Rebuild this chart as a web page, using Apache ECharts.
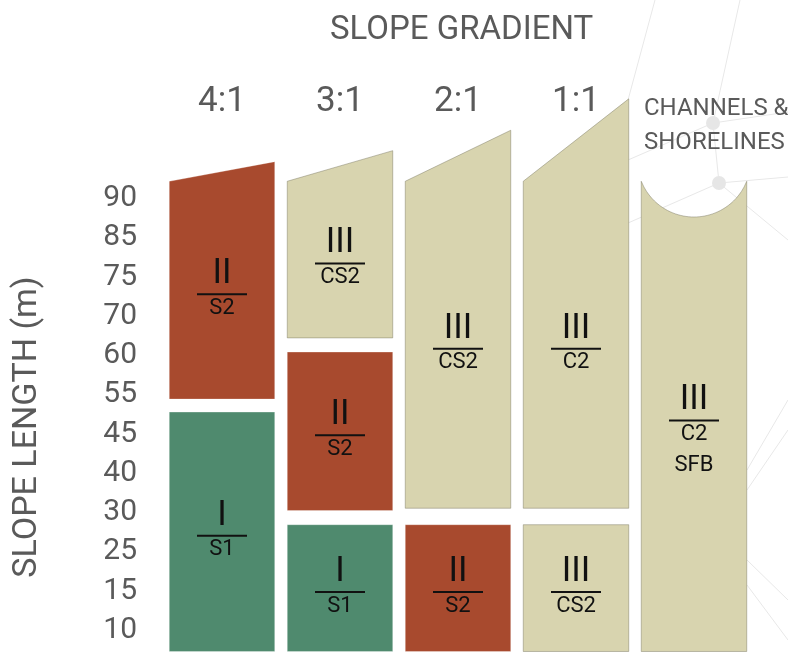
<!DOCTYPE html>
<html>
<head>
<meta charset="utf-8">
<script src="https://cdn.jsdelivr.net/npm/echarts@6/dist/echarts.min.js"></script>
<style>
html, body { margin: 0; padding: 0; background: #fff; }
#echart { width: 788px; height: 653px; }
</style>
</head>
<body>
<div id="echart"></div>
<script>
var gradients = ['4:1', '3:1', '2:1', '1:1', 'CHANNELS &\nSHORELINES'];
var lengthTicks = ['10', '15', '25', '30', '40', '45', '55', '60', '70', '75', '85', '90'];

// column tops, in slope-length rows: left corner, right corner (channels: bottom of the dip)
var topLeft = 11.84;
var topRight = [12.34, 12.62, 13.14, 13.94, 10.93];

// blocks (column index, from row, to row, class / code)
var blockColumn = [0, 0, 1, 1, 1, 2, 2, 3, 3, 4];
var blockFrom = [-0.14, 6.29, -0.14, 3.45, 7.85, -0.14, 3.51, -0.14, 3.51, -0.14];
var blockTo = [5.96, 11.84, 3.09, 7.49, 11.84, 3.09, 11.84, 3.09, 11.84, 11.84];
var blockClass = ['I', 'II', 'I', 'II', 'III', 'II', 'III', 'III', 'III', 'III'];
var blockCode = ['S1', 'S2', 'S1', 'S2', 'CS2', 'S2', 'CS2', 'CS2', 'C2', 'C2'];
var blockNote = ['', '', '', '', '', '', '', '', '', 'SFB'];

var classColors = { 'I': '#4F8A6E', 'II': '#A84A2E', 'III': '#D8D4AF' };

var myChart = echarts.init(document.getElementById('echart'));

var blocks = blockColumn.map(function (c, i) {
    return [c, blockFrom[i], blockTo[i]];
});

function renderBlock(params, api) {
    var i = params.dataIndex;
    var col = api.value(0);
    var from = api.value(1);
    var to = api.value(2);
    var w = api.size([1, 0])[0] * 0.894;
    var b = api.coord([col, from]);
    var t = api.coord([col, to]);
    var cx = b[0];
    var x0 = cx - w / 2, x1 = cx + w / 2;
    var pts = [[x0, b[1]], [x1, b[1]]];
    if (to >= topLeft && col === 4) {
        // concave top for channels
        var yd = api.coord([col, topRight[col]])[1];
        var h = yd - t[1];
        var half = w / 2;
        var r = (half * half + h * h) / (2 * h);
        var cy = yd - r;
        for (var k = 0; k <= 40; k++) {
            var x = x1 - (w * k) / 40;
            var dx = x - cx;
            pts.push([x, cy + Math.sqrt(Math.max(0, r * r - dx * dx))]);
        }
    } else if (to >= topLeft) {
        var tr = api.coord([col, topRight[col]]);
        pts.push([x1, tr[1]], [x0, t[1]]);
    } else {
        pts.push([x1, t[1]], [x0, t[1]]);
    }
    var cls = blockClass[i];
    var lineY = (b[1] + t[1]) / 2 + 4;
    var children = [
        {
            type: 'polygon',
            shape: { points: pts },
            style: {
                fill: classColors[cls],
                stroke: cls === 'III' ? 'rgba(120,118,95,0.45)' : 'rgba(255,255,255,0.3)',
                lineWidth: 1
            }
        },
        {
            type: 'line',
            shape: { x1: cx - 25, y1: lineY, x2: cx + 25, y2: lineY },
            style: { stroke: '#111', lineWidth: 2 }
        },
        {
            type: 'text',
            style: {
                text: cls, x: cx, y: lineY - 20, align: 'center', verticalAlign: 'middle',
                fontSize: 35, fontFamily: 'Roboto', fill: '#111'
            }
        },
        {
            type: 'text',
            style: {
                text: blockCode[i], x: cx, y: lineY + 14, align: 'center', verticalAlign: 'middle',
                fontSize: 22, fontFamily: 'Roboto', fill: '#111'
            }
        }
    ];
    if (blockNote[i]) {
        children.push({
            type: 'text',
            style: {
                text: blockNote[i], x: cx, y: lineY + 45, align: 'center', verticalAlign: 'middle',
                fontSize: 22, fontFamily: 'Roboto', fill: '#111'
            }
        });
    }
    return { type: 'group', children: children };
}

// faint network pattern in the background
var decoColor = '#e8e8e8';
var decoLines = [
    [713, 123, 719, 183], [713, 123, 788, 112], [713, 123, 740, 0], [713, 123, 628, 160],
    [719, 183, 788, 177], [719, 183, 628, 223], [719, 183, 788, 240], [628, 100, 655, 0],
    [747, 490, 788, 430], [747, 470, 788, 400], [747, 560, 788, 600], [747, 585, 788, 640]
];
var deco = decoLines.map(function (l) {
    return {
        type: 'line', z: 0, silent: true,
        shape: { x1: l[0], y1: l[1], x2: l[2], y2: l[3] },
        style: { stroke: decoColor, lineWidth: 1 }
    };
});
deco.push(
    { type: 'circle', z: 0, silent: true, shape: { cx: 713, cy: 123, r: 7 }, style: { fill: '#e6e6e6' } },
    { type: 'circle', z: 0, silent: true, shape: { cx: 719, cy: 183, r: 7 }, style: { fill: '#e6e6e6' } }
);
deco.push({
    type: 'text', silent: true, x: 27, y: 427, rotation: Math.PI / 2,
    style: {
        text: 'SLOPE LENGTH (m)', align: 'center', verticalAlign: 'middle',
        fontSize: 34, fontFamily: 'Roboto', fill: '#5a5a5a'
    }
});

option = {
    backgroundColor: '#fff',
    title: [
        {
            text: 'SLOPE GRADIENT',
            left: 330,
            top: 14,
            padding: 0,
            textStyle: { fontSize: 33, fontWeight: 'normal', fontFamily: 'Roboto', color: '#5a5a5a' }
        },
        {
            text: gradients[4],
            left: 644,
            top: 92,
            padding: 0,
            textStyle: { fontSize: 24, lineHeight: 34, fontWeight: 'normal', fontFamily: 'Roboto', color: '#5a5a5a' }
        }
    ],
    graphic: deco,
    grid: [
        { left: 163, right: 35, top: 175, bottom: 7 },
        // tick labels sit a few pixels lower than the block rows
        { left: 163, right: 35, top: 179, bottom: 3 }
    ],
    xAxis: [
        {
            type: 'category',
            position: 'top',
            data: gradients,
            axisLine: { show: false },
            axisTick: { show: false },
            splitLine: { show: false },
            axisLabel: {
                margin: 55,
                fontSize: 35,
                fontFamily: 'Roboto',
                color: '#5a5a5a',
                formatter: function (v, idx) { return idx === 4 ? '' : v; }
            }
        },
        {
            type: 'category',
            gridIndex: 1,
            data: gradients,
            show: false
        }
    ],
    yAxis: [
        {
            type: 'category',
            gridIndex: 1,
            data: lengthTicks,
            axisLine: { show: false },
            axisTick: { show: false },
            splitLine: { show: false },
            axisLabel: { margin: 26, fontSize: 30, fontFamily: 'Roboto', color: '#5a5a5a' }
        },
        {
            type: 'value',
            gridIndex: 0,
            min: 0,
            max: 12,
            show: false,
            splitLine: { show: false }
        }
    ],
    series: [
        {
            type: 'custom',
            xAxisIndex: 0,
            yAxisIndex: 1,
            clip: false,
            renderItem: renderBlock,
            data: blocks
        }
    ]
};
myChart.setOption(option);
</script>
</body>
</html>
